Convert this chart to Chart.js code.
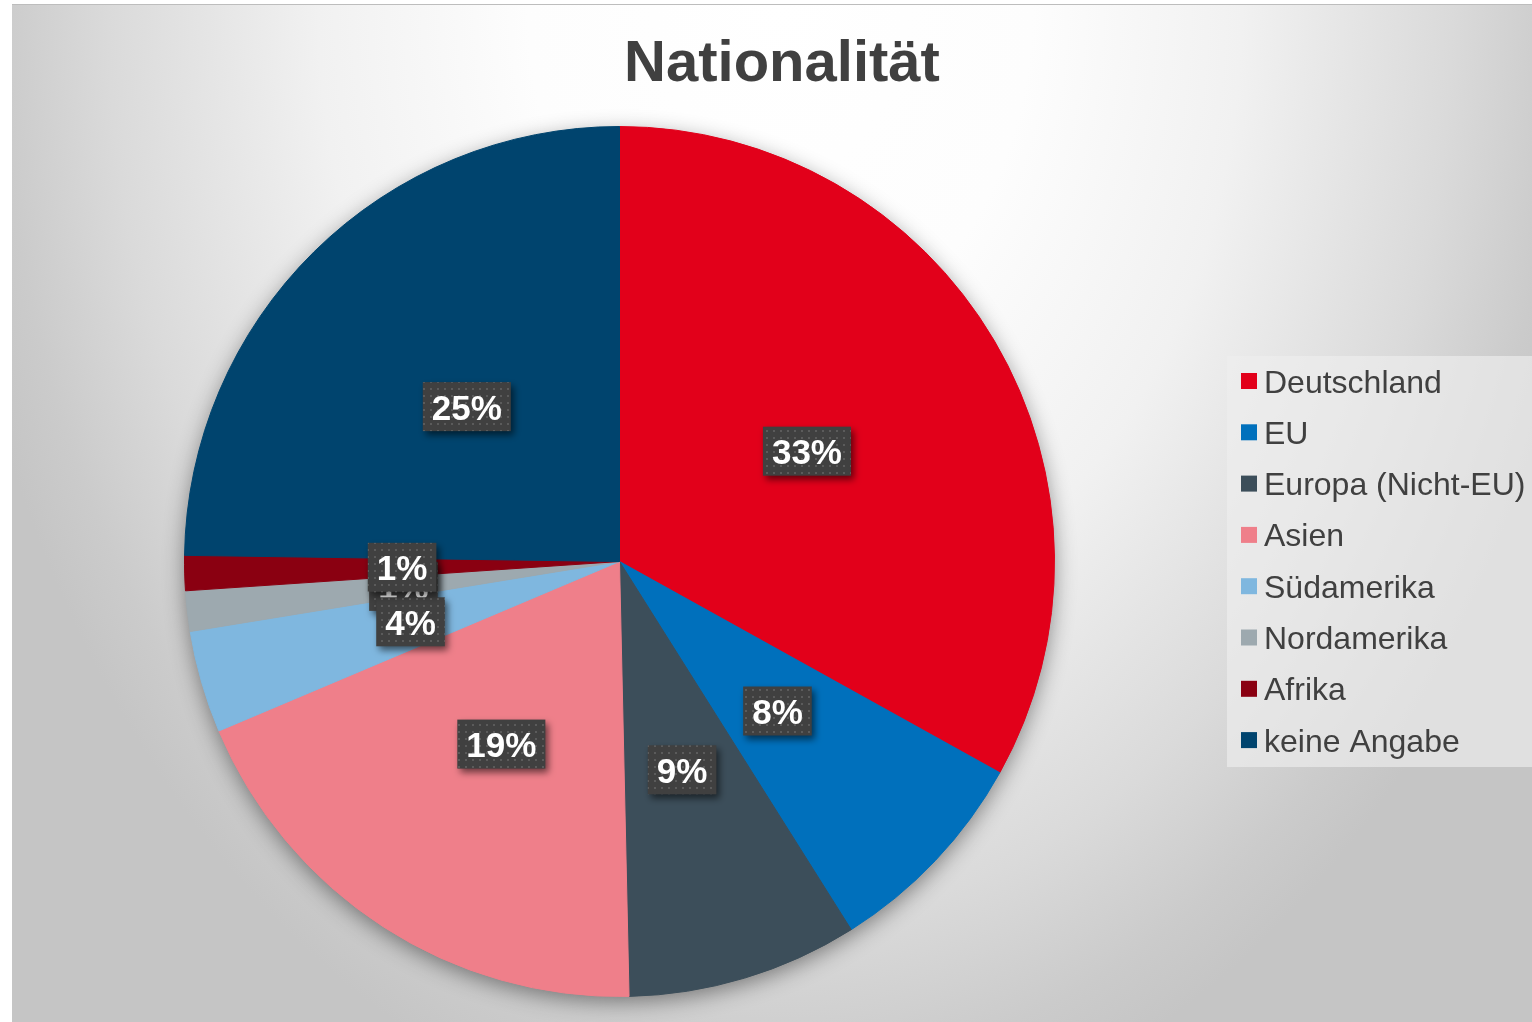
<!DOCTYPE html>
<html><head><meta charset="utf-8">
<script src="https://cdn.jsdelivr.net/npm/chart.js@4.4.0/dist/chart.umd.min.js"></script>
<style>html,body{margin:0;padding:0;background:#fff;overflow:hidden}canvas{display:block}</style>
</head><body>
<canvas id="c" width="1532" height="1022"></canvas>
<script>
const chartTitle = "Nationalität";
const categories = ["Deutschland", "EU", "Europa (Nicht-EU)", "Asien", "Südamerika", "Nordamerika", "Afrika", "keine Angabe"];
const values = [33.1, 8.0, 8.6, 19.0, 3.8, 1.5, 1.3, 24.8];
const colors = ["#E2001A", "#0070BC", "#3C4E5A", "#EF7F8A", "#7FB7DF", "#9DA9AF", "#8A0011", "#00446E"];
const labelDrawOrder = [5, 0, 1, 2, 3, 4, 6, 7];

const FONT = '"Liberation Sans", Arial, Helvetica, sans-serif';
const total = values.reduce((a, b) => a + b, 0);
const pctLabels = values.map(v => Math.round(v / total * 100) + '%');

function makePattern(ctx) {
  const t = document.createElement('canvas');
  t.width = 7; t.height = 7;
  const g = t.getContext('2d');
  g.fillStyle = '#404040'; g.fillRect(0, 0, 7, 7);
  g.fillStyle = '#5b5b5b'; g.fillRect(3, 3, 2, 2);
  return ctx.createPattern(t, 'repeat');
}

const bgPlugin = {
  id: 'bg',
  beforeDraw(chart) {
    const ctx = chart.ctx;
    ctx.save();
    ctx.fillStyle = '#ffffff';
    ctx.fillRect(0, 0, chart.width, chart.height);
    const x0 = 12, y0 = 4, w = chart.width - x0, h = chart.height - y0;
    ctx.save();
    ctx.beginPath(); ctx.rect(x0, y0, w, h); ctx.clip();
    const cx = 780, cy = 0, rx = 840, ry = 1150;
    ctx.translate(cx, cy);
    ctx.scale(rx / ry, 1);
    const g = ctx.createRadialGradient(0, 0, 0, 0, 0, ry);
    g.addColorStop(0, '#ffffff');
    g.addColorStop(0.3, '#fdfdfd');
    g.addColorStop(0.55, '#f1f1f1');
    g.addColorStop(0.8, '#dadada');
    g.addColorStop(0.93, '#cbcbcb');
    g.addColorStop(1, '#c5c5c5');
    ctx.fillStyle = g;
    ctx.fillRect(-2000, -100, 4000, 2000);
    ctx.restore();
    ctx.fillStyle = '#bdbdbd';
    ctx.fillRect(x0, y0, w, 1);
    ctx.restore();
  },
  beforeDatasetsDraw(chart) {
    const arcs = chart.getDatasetMeta(0).data;
    if (!arcs.length) return;
    const p = arcs[0].getProps(['x', 'y', 'outerRadius'], true);
    const ctx = chart.ctx;
    ctx.save();
    ctx.shadowColor = 'rgba(0,0,0,0.45)';
    ctx.shadowBlur = 22;
    ctx.shadowOffsetX = 0;
    ctx.shadowOffsetY = 6;
    ctx.fillStyle = '#808080';
    ctx.beginPath();
    ctx.arc(p.x, p.y, p.outerRadius - 1, 0, Math.PI * 2);
    ctx.fill();
    ctx.restore();
  }
};

const labelPlugin = {
  id: 'pctLabels',
  afterDatasetsDraw(chart) {
    const ctx = chart.ctx;
    const meta = chart.getDatasetMeta(0);
    const pattern = makePattern(ctx);
    ctx.save();
    ctx.font = 'bold 35px ' + FONT;
    labelDrawOrder.forEach(i => {
      const arc = meta.data[i];
      const pos = arc.tooltipPosition(true);
      const txt = pctLabels[i];
      const tw = ctx.measureText(txt).width;
      const bw = tw + 18, bh = 49;
      ctx.save();
      ctx.shadowColor = 'rgba(0,0,0,0.55)';
      ctx.shadowBlur = 7;
      ctx.shadowOffsetX = 3;
      ctx.shadowOffsetY = 4;
      ctx.fillStyle = pattern;
      ctx.fillRect(pos.x - bw / 2, pos.y - bh / 2, bw, bh);
      ctx.restore();
      ctx.fillStyle = '#ffffff';
      ctx.textAlign = 'center';
      ctx.textBaseline = 'alphabetic';
      ctx.fillText(txt, pos.x, pos.y + 13);
    });
    ctx.restore();
  }
};

const legendTitlePlugin = {
  id: 'legendTitle',
  afterDraw(chart) {
    const ctx = chart.ctx;
    ctx.save();
    ctx.fillStyle = '#404040';
    ctx.font = 'bold 58px ' + FONT;
    ctx.textAlign = 'center';
    ctx.textBaseline = 'alphabetic';
    ctx.fillText(chartTitle, 782, 81);
    ctx.fillStyle = 'rgba(238,238,238,0.65)';
    ctx.fillRect(1227, 356, chart.width - 1227, 411);
    ctx.font = '32px ' + FONT;
    ctx.textAlign = 'left';
    categories.forEach((c, i) => {
      const cy = 381 + i * 51.3;
      ctx.fillStyle = colors[i];
      ctx.fillRect(1241, cy - 8, 16, 16);
      ctx.fillStyle = '#404040';
      ctx.fillText(c, 1264, cy + 11.5);
    });
    ctx.restore();
  }
};

new Chart(document.getElementById('c'), {
  type: 'pie',
  data: {
    labels: categories,
    datasets: [{
      data: values,
      backgroundColor: colors,
      borderColor: colors,
      borderWidth: 1,
      hoverOffset: 0,
      offset: 0
    }]
  },
  options: {
    responsive: false,
    animation: false,
    events: [],
    layout: { padding: { left: 184, right: 477, top: 126, bottom: 25 } },
    plugins: {
      legend: { display: false },
      title: { display: false },
      tooltip: { enabled: false }
    }
  },
  plugins: [bgPlugin, labelPlugin, legendTitlePlugin]
});
</script>
</body></html>
